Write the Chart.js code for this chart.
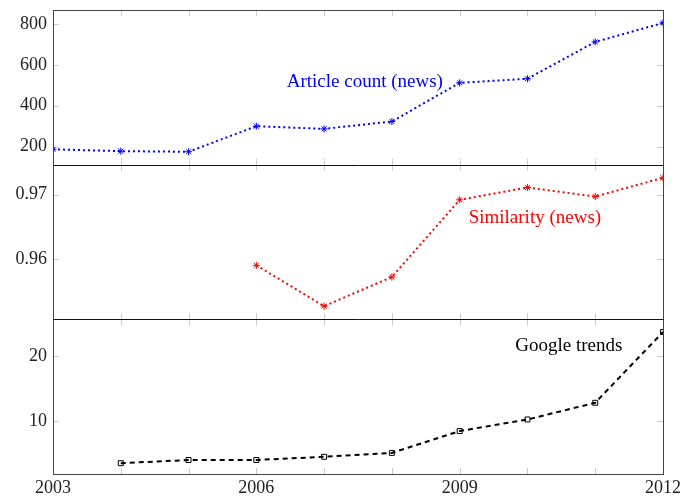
<!DOCTYPE html>
<html><head><meta charset="utf-8">
<script src="https://cdn.jsdelivr.net/npm/chart.js@4"></script>
<style>html,body{margin:0;padding:0;background:#fff}canvas{display:block}</style>
</head><body>
<canvas id="c" width="684" height="496"></canvas>
<script>
const years = [2003, 2004, 2005, 2006, 2007, 2008, 2009, 2010, 2011, 2012];
const xTickLabels = [2003, 2006, 2009, 2012];
const articleCount = [187, 178, 175, 300, 287, 323, 512, 532, 712, 805];
const similarity = [null, null, null, 0.9591, 0.9528, 0.9573, 0.9692, 0.9711, 0.9697, 0.9726];
const googleTrends = [null, 3.4, 3.9, 3.9, 4.4, 5.0, 8.4, 10.2, 12.8, 23.8];
const articleTicks = [200, 400, 600, 800];
const similarityTicks = [0.96, 0.97];
const trendsTicks = [10, 20];
const seriesLabels = [
  {text: 'Article count (news)', x: 2007.6, y: 517, axis: 'yA', color: '#0000ff'},
  {text: 'Similarity (news)', x: 2010.11, y: 0.96646, axis: 'yS', color: '#ff0000'},
  {text: 'Google trends', x: 2010.61, y: 21.7, axis: 'yG', color: '#000000'}
];

const FONT = "'Liberation Serif', 'Times New Roman', serif";
const toPts = arr => years.map((yr, i) => ({x: yr, y: arr[i]})).filter(p => p.y !== null);

function yScale(min, max, ticks, fmt) {
  return {
    type: 'linear', position: 'left', stack: 'panels', stackWeight: 1,
    min: min, max: max,
    afterBuildTicks: s => { s.ticks = ticks.map(v => ({value: v})); },
    afterFit: s => { s.width = 53; s.paddingTop = 0; s.paddingBottom = 0; },
    grid: {display: false, drawTicks: false},
    border: {display: false},
    ticks: {font: {family: FONT, size: 18}, color: '#222', padding: 6, callback: fmt}
  };
}

const framePlugin = {
  id: 'frame',
  beforeDatasetsDraw(chart) {
    const ctx = chart.ctx, ca = chart.chartArea, xs = chart.scales.x;
    ctx.save();
    ctx.strokeStyle = '#cccccc';
    ctx.lineWidth = 1;
    ['yA', 'yS', 'yG'].forEach(id => {
      const s = chart.scales[id];
      s.ticks.forEach(t => {
        const y = Math.round(s.getPixelForValue(t.value)) + 0.5;
        ctx.beginPath();
        ctx.moveTo(ca.left, y); ctx.lineTo(ca.left + 6, y);
        ctx.moveTo(ca.right - 6, y); ctx.lineTo(ca.right, y);
        ctx.stroke();
      });
      years.forEach(yr => {
        const x = Math.round(xs.getPixelForValue(yr)) + 0.5;
        ctx.beginPath();
        ctx.moveTo(x, s.top); ctx.lineTo(x, s.top + 6);
        ctx.moveTo(x, s.bottom); ctx.lineTo(x, s.bottom - 6);
        ctx.stroke();
      });
    });
    ctx.restore();
  },
  afterDatasetsDraw(chart) {
    const ctx = chart.ctx, ca = chart.chartArea;
    ctx.save();
    ctx.lineWidth = 1;
    const L = Math.round(ca.left) + 0.5, R = Math.round(ca.right) + 0.5;
    ctx.strokeStyle = '#444444';
    ctx.strokeRect(L, Math.round(ca.top) + 0.5, R - L, Math.round(ca.bottom) - Math.round(ca.top));
    ctx.strokeStyle = '#111111';
    ['yS', 'yG'].forEach(id => {
      const y = Math.round(chart.scales[id].top) + 0.5;
      ctx.beginPath(); ctx.moveTo(L, y); ctx.lineTo(R, y); ctx.stroke();
    });
    ctx.font = '19px ' + FONT;
    ctx.textAlign = 'center';
    ctx.textBaseline = 'middle';
    seriesLabels.forEach(l => {
      ctx.fillStyle = l.color;
      ctx.fillText(l.text, chart.scales.x.getPixelForValue(l.x), chart.scales[l.axis].getPixelForValue(l.y));
    });
    ctx.restore();
  }
};

function ds(data, color, dash, width, axis, style) {
  return {
    data: toPts(data), yAxisID: axis,
    borderColor: color, borderDash: dash, borderWidth: width,
    pointStyle: style, pointRadius: 3.5, pointBorderWidth: 1,
    pointBorderColor: color, pointBackgroundColor: 'rgba(0,0,0,0)',
    fill: false, tension: 0
  };
}

new Chart(document.getElementById('c'), {
  type: 'line',
  data: {
    datasets: [
      ds(articleCount, '#0000ff', [2, 3], 2, 'yA', 'star'),
      ds(similarity, '#ff0000', [2, 3], 2, 'yS', 'star'),
      ds(googleTrends, '#000000', [5, 4], 2, 'yG', 'rect')
    ]
  },
  options: {
    responsive: false, animation: false,
    layout: {padding: {top: 10, right: 21, left: 0, bottom: 0}},
    plugins: {legend: {display: false}, tooltip: {enabled: false}},
    scales: {
      x: {
        type: 'linear', min: 2003, max: 2012,
        afterBuildTicks: s => { s.ticks = xTickLabels.map(v => ({value: v})); },
        afterFit: s => { s.height = 22; s.paddingLeft = 0; s.paddingRight = 0; },
        grid: {display: false, drawTicks: false},
        border: {display: false},
        ticks: {font: {family: FONT, size: 18}, color: '#222', padding: 3, callback: v => String(v)}
      },
      yG: yScale(1.72, 25.78, trendsTicks, v => String(v)),
      yS: yScale(0.95077, 0.97462, similarityTicks, v => v.toFixed(2)),
      yA: yScale(112, 868, articleTicks, v => String(v))
    }
  },
  plugins: [framePlugin]
});
</script>
</body></html>
